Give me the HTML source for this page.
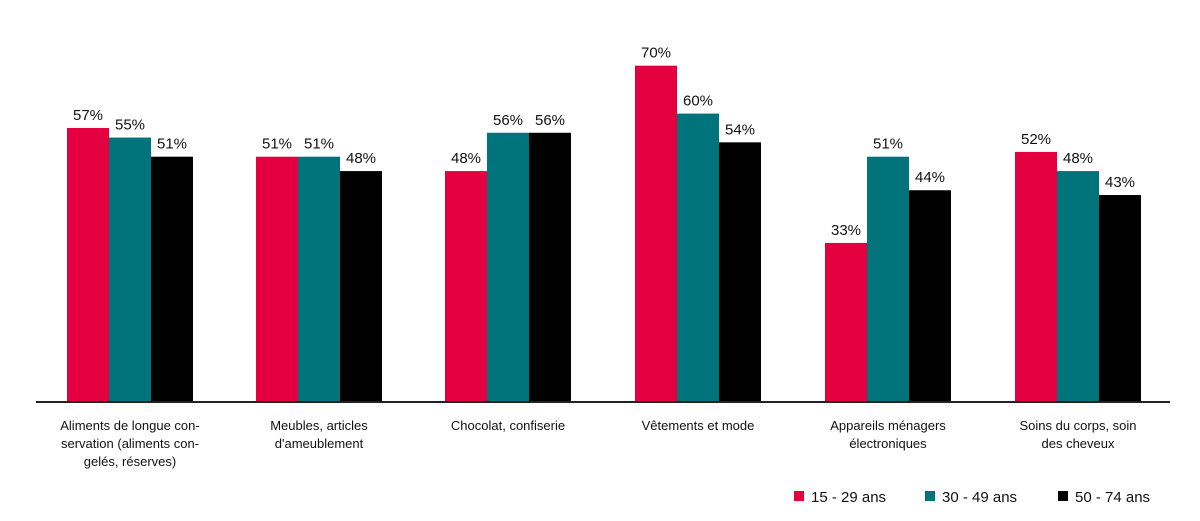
<!DOCTYPE html>
<html><head><meta charset="utf-8"><style>
body{margin:0;background:#fff}
svg{display:block;font-family:"Liberation Sans",sans-serif}
</style></head><body>
<svg width="1200" height="521" viewBox="0 0 1200 521">
<g id="bars"></g>
<line x1="36" y1="402" x2="1170" y2="402" stroke="#222" stroke-width="2"/>
<g font-size="13" fill="#111" text-anchor="middle">
<text x="130" y="430">Aliments de longue con-</text>
<text x="130" y="448">servation (aliments con-</text>
<text x="130" y="466">gelés, réserves)</text>
<text x="319" y="430">Meubles, articles</text>
<text x="319" y="448">d'ameublement</text>
<text x="508" y="430">Chocolat, confiserie</text>
<text x="698" y="430">Vêtements et mode</text>
<text x="888" y="430">Appareils ménagers</text>
<text x="888" y="448">électroniques</text>
<text x="1078" y="430">Soins du corps, soin</text>
<text x="1078" y="448">des cheveux</text>
</g>
<g font-size="15" fill="#111">
<rect x="794" y="491" width="10" height="10" fill="#e4003f"/><text x="811" y="502">15 - 29 ans</text>
<rect x="925" y="491" width="10" height="10" fill="#00737b"/><text x="942" y="502">30 - 49 ans</text>
<rect x="1058" y="491" width="10" height="10" fill="#000"/><text x="1075" y="502">50 - 74 ans</text>
</g>
<g id="lbl" font-size="15" fill="#111" text-anchor="middle"></g>
</svg>
<script>
var d=[[57,55,51],[51,51,48],[48,56,56],[70,60,54],[33,51,44],[52,48,43]];
var c=["#e4003f","#00737b","#000"],s="",t="";
var starts=[67,256,445,635,825,1015];
for(var g=0;g<6;g++)for(var i=0;i<3;i++){var v=d[g][i],h=v*4.79,x=starts[g]+i*42,y=401-h;
s+='<rect x="'+x+'" y="'+y+'" width="42" height="'+h+'" fill="'+c[i]+'"/>';
t+='<text x="'+(x+21)+'" y="'+(y-8)+'">'+v+'%</text>';}
document.getElementById("bars").innerHTML=s;document.getElementById("lbl").innerHTML=t;
</script>
</body></html>
